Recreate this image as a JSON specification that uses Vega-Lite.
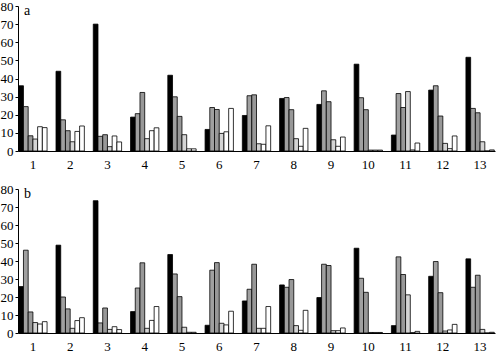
{
  "$schema": "https://vega.github.io/schema/vega-lite/v6.json",
  "padding": {"left": 0, "top": 0, "right": 1, "bottom": 0},
  "spacing": 12,
  "config": {
    "view": {"stroke": null},
    "font": "Liberation Serif",
    "axis": {"labelFont": "Liberation Serif", "labelFontSize": 13, "labelColor": "#000", "domainColor": "#000", "tickColor": "#000", "grid": false, "title": null},
    "title": {"font": "Liberation Serif", "fontSize": 14, "fontWeight": "normal", "color": "#000"}
  },
  "datasets": {
    "d": [
      {"panel":"a","group":1,"series":"s1","value":36},{"panel":"a","group":1,"series":"s2","value":24.5},{"panel":"a","group":1,"series":"s3","value":8.4},{"panel":"a","group":1,"series":"s4","value":6.6},{"panel":"a","group":1,"series":"s5","value":13.4},{"panel":"a","group":1,"series":"s6","value":12.9},
      {"panel":"a","group":2,"series":"s1","value":44},{"panel":"a","group":2,"series":"s2","value":17.2},{"panel":"a","group":2,"series":"s3","value":11.2},{"panel":"a","group":2,"series":"s4","value":5.1},{"panel":"a","group":2,"series":"s5","value":10.8},{"panel":"a","group":2,"series":"s6","value":13.8},
      {"panel":"a","group":3,"series":"s1","value":70},{"panel":"a","group":3,"series":"s2","value":8.1},{"panel":"a","group":3,"series":"s3","value":9.0},{"panel":"a","group":3,"series":"s4","value":2.4},{"panel":"a","group":3,"series":"s5","value":8.3},{"panel":"a","group":3,"series":"s6","value":5.0},
      {"panel":"a","group":4,"series":"s1","value":18.7},{"panel":"a","group":4,"series":"s2","value":20.6},{"panel":"a","group":4,"series":"s3","value":32.3},{"panel":"a","group":4,"series":"s4","value":6.8},{"panel":"a","group":4,"series":"s5","value":11.2},{"panel":"a","group":4,"series":"s6","value":12.8},
      {"panel":"a","group":5,"series":"s1","value":41.8},{"panel":"a","group":5,"series":"s2","value":29.9},{"panel":"a","group":5,"series":"s3","value":19.1},{"panel":"a","group":5,"series":"s4","value":9.0},{"panel":"a","group":5,"series":"s5","value":1.2},{"panel":"a","group":5,"series":"s6","value":1.2},
      {"panel":"a","group":6,"series":"s1","value":11.9},{"panel":"a","group":6,"series":"s2","value":24.0},{"panel":"a","group":6,"series":"s3","value":22.9},{"panel":"a","group":6,"series":"s4","value":9.7},{"panel":"a","group":6,"series":"s5","value":10.6},{"panel":"a","group":6,"series":"s6","value":23.5},
      {"panel":"a","group":7,"series":"s1","value":19.6},{"panel":"a","group":7,"series":"s2","value":30.5},{"panel":"a","group":7,"series":"s3","value":31.0},{"panel":"a","group":7,"series":"s4","value":4.0},{"panel":"a","group":7,"series":"s5","value":3.7},{"panel":"a","group":7,"series":"s6","value":13.9},
      {"panel":"a","group":8,"series":"s1","value":29.0},{"panel":"a","group":8,"series":"s2","value":29.5},{"panel":"a","group":8,"series":"s3","value":22.8},{"panel":"a","group":8,"series":"s4","value":6.8},{"panel":"a","group":8,"series":"s5","value":2.6},{"panel":"a","group":8,"series":"s6","value":12.5},
      {"panel":"a","group":9,"series":"s1","value":25.7},{"panel":"a","group":9,"series":"s2","value":33.2},{"panel":"a","group":9,"series":"s3","value":27.2},{"panel":"a","group":9,"series":"s4","value":6.2},{"panel":"a","group":9,"series":"s5","value":2.6},{"panel":"a","group":9,"series":"s6","value":7.7},
      {"panel":"a","group":10,"series":"s1","value":47.9},{"panel":"a","group":10,"series":"s2","value":29.4},{"panel":"a","group":10,"series":"s3","value":22.8},{"panel":"a","group":10,"series":"s4","value":0.5},{"panel":"a","group":10,"series":"s5","value":0.5},{"panel":"a","group":10,"series":"s6","value":0.5},
      {"panel":"a","group":11,"series":"s1","value":8.8},{"panel":"a","group":11,"series":"s2","value":31.7},{"panel":"a","group":11,"series":"s3","value":24.0},{"panel":"a","group":11,"series":"s4","value":32.8},{"panel":"a","group":11,"series":"s5","value":0.6},{"panel":"a","group":11,"series":"s6","value":4.4},
      {"panel":"a","group":12,"series":"s1","value":33.6},{"panel":"a","group":12,"series":"s2","value":36.0},{"panel":"a","group":12,"series":"s3","value":19.3},{"panel":"a","group":12,"series":"s4","value":4.2},{"panel":"a","group":12,"series":"s5","value":1.3},{"panel":"a","group":12,"series":"s6","value":8.3},
      {"panel":"a","group":13,"series":"s1","value":51.7},{"panel":"a","group":13,"series":"s2","value":23.5},{"panel":"a","group":13,"series":"s3","value":21.1},{"panel":"a","group":13,"series":"s4","value":5.1},{"panel":"a","group":13,"series":"s5","value":0},{"panel":"a","group":13,"series":"s6","value":0.6},
      {"panel":"b","group":1,"series":"s1","value":25.8},{"panel":"b","group":1,"series":"s2","value":46.0},{"panel":"b","group":1,"series":"s3","value":11.7},{"panel":"b","group":1,"series":"s4","value":5.8},{"panel":"b","group":1,"series":"s5","value":5.0},{"panel":"b","group":1,"series":"s6","value":6.3},
      {"panel":"b","group":2,"series":"s1","value":48.8},{"panel":"b","group":2,"series":"s2","value":20.0},{"panel":"b","group":2,"series":"s3","value":13.4},{"panel":"b","group":2,"series":"s4","value":2.6},{"panel":"b","group":2,"series":"s5","value":6.9},{"panel":"b","group":2,"series":"s6","value":8.5},
      {"panel":"b","group":3,"series":"s1","value":73.5},{"panel":"b","group":3,"series":"s2","value":5.6},{"panel":"b","group":3,"series":"s3","value":13.9},{"panel":"b","group":3,"series":"s4","value":2.0},{"panel":"b","group":3,"series":"s5","value":3.5},{"panel":"b","group":3,"series":"s6","value":1.9},
      {"panel":"b","group":4,"series":"s1","value":11.9},{"panel":"b","group":4,"series":"s2","value":25.0},{"panel":"b","group":4,"series":"s3","value":39.0},{"panel":"b","group":4,"series":"s4","value":2.6},{"panel":"b","group":4,"series":"s5","value":7.0},{"panel":"b","group":4,"series":"s6","value":14.7},
      {"panel":"b","group":5,"series":"s1","value":43.6},{"panel":"b","group":5,"series":"s2","value":32.8},{"panel":"b","group":5,"series":"s3","value":20.2},{"panel":"b","group":5,"series":"s4","value":3.2},{"panel":"b","group":5,"series":"s5","value":0.4},{"panel":"b","group":5,"series":"s6","value":0.4},
      {"panel":"b","group":6,"series":"s1","value":4.3},{"panel":"b","group":6,"series":"s2","value":34.9},{"panel":"b","group":6,"series":"s3","value":39.1},{"panel":"b","group":6,"series":"s4","value":5.4},{"panel":"b","group":6,"series":"s5","value":4.5},{"panel":"b","group":6,"series":"s6","value":12.1},
      {"panel":"b","group":7,"series":"s1","value":17.8},{"panel":"b","group":7,"series":"s2","value":24.3},{"panel":"b","group":7,"series":"s3","value":38.2},{"panel":"b","group":7,"series":"s4","value":2.6},{"panel":"b","group":7,"series":"s5","value":2.6},{"panel":"b","group":7,"series":"s6","value":14.7},
      {"panel":"b","group":8,"series":"s1","value":26.7},{"panel":"b","group":8,"series":"s2","value":25.4},{"panel":"b","group":8,"series":"s3","value":29.7},{"panel":"b","group":8,"series":"s4","value":4.1},{"panel":"b","group":8,"series":"s5","value":1.5},{"panel":"b","group":8,"series":"s6","value":12.6},
      {"panel":"b","group":9,"series":"s1","value":19.7},{"panel":"b","group":9,"series":"s2","value":38.2},{"panel":"b","group":9,"series":"s3","value":37.5},{"panel":"b","group":9,"series":"s4","value":1.3},{"panel":"b","group":9,"series":"s5","value":1.3},{"panel":"b","group":9,"series":"s6","value":2.8},
      {"panel":"b","group":10,"series":"s1","value":47.1},{"panel":"b","group":10,"series":"s2","value":30.4},{"panel":"b","group":10,"series":"s3","value":22.6},{"panel":"b","group":10,"series":"s4","value":0.3},{"panel":"b","group":10,"series":"s5","value":0.3},{"panel":"b","group":10,"series":"s6","value":0.3},
      {"panel":"b","group":11,"series":"s1","value":4.1},{"panel":"b","group":11,"series":"s2","value":42.3},{"panel":"b","group":11,"series":"s3","value":32.5},{"panel":"b","group":11,"series":"s4","value":21.2},{"panel":"b","group":11,"series":"s5","value":0.2},{"panel":"b","group":11,"series":"s6","value":0.9},
      {"panel":"b","group":12,"series":"s1","value":31.5},{"panel":"b","group":12,"series":"s2","value":39.7},{"panel":"b","group":12,"series":"s3","value":22.4},{"panel":"b","group":12,"series":"s4","value":1.1},{"panel":"b","group":12,"series":"s5","value":1.7},{"panel":"b","group":12,"series":"s6","value":4.8},
      {"panel":"b","group":13,"series":"s1","value":41.2},{"panel":"b","group":13,"series":"s2","value":25.4},{"panel":"b","group":13,"series":"s3","value":32.1},{"panel":"b","group":13,"series":"s4","value":2.0},{"panel":"b","group":13,"series":"s5","value":0},{"panel":"b","group":13,"series":"s6","value":0.4}
    ]
  },
  "vconcat": [
    {
      "data": {"name": "d"},
      "transform": [{"filter": "datum.panel === 'a'"}],
      "title": {"text": "a", "anchor": "start", "frame": "group", "orient": "top", "offset": -18, "dx": 6},
      "width": 477,
      "height": 145,
      "mark": {"type": "bar", "stroke": "#000", "strokeWidth": 0.8},
      "encoding": {
        "x": {"field": "group", "type": "ordinal", "scale": {"paddingInner": 0.24, "paddingOuter": 0.02}, "axis": {"labelAngle": 0, "ticks": false, "labelPadding": 7, "domainWidth": 1}},
        "xOffset": {"field": "series", "type": "nominal", "sort": ["s1","s2","s3","s4","s5","s6"]},
        "y": {"field": "value", "type": "quantitative", "scale": {"domain": [0, 80]}, "axis": {"values": [0,10,20,30,40,50,60,70,80], "tickSize": 3, "labelPadding": 2}},
        "fill": {"field": "series", "type": "nominal", "legend": null, "scale": {"domain": ["s1","s2","s3","s4","s5","s6"], "range": ["#000000","#a0a0a0","#989898","#d4d4d4","#ffffff","#ffffff"]}}
      }
    },
    {
      "data": {"name": "d"},
      "transform": [{"filter": "datum.panel === 'b'"}],
      "title": {"text": "b", "anchor": "start", "frame": "group", "orient": "top", "offset": -18, "dx": 6},
      "width": 477,
      "height": 144,
      "mark": {"type": "bar", "stroke": "#000", "strokeWidth": 0.8},
      "encoding": {
        "x": {"field": "group", "type": "ordinal", "scale": {"paddingInner": 0.24, "paddingOuter": 0.02}, "axis": {"labelAngle": 0, "ticks": false, "labelPadding": 7, "domainWidth": 1}},
        "xOffset": {"field": "series", "type": "nominal", "sort": ["s1","s2","s3","s4","s5","s6"]},
        "y": {"field": "value", "type": "quantitative", "scale": {"domain": [0, 80]}, "axis": {"values": [0,10,20,30,40,50,60,70,80], "tickSize": 3, "labelPadding": 2}},
        "fill": {"field": "series", "type": "nominal", "legend": null, "scale": {"domain": ["s1","s2","s3","s4","s5","s6"], "range": ["#000000","#a0a0a0","#989898","#d4d4d4","#ffffff","#ffffff"]}}
      }
    }
  ]
}
